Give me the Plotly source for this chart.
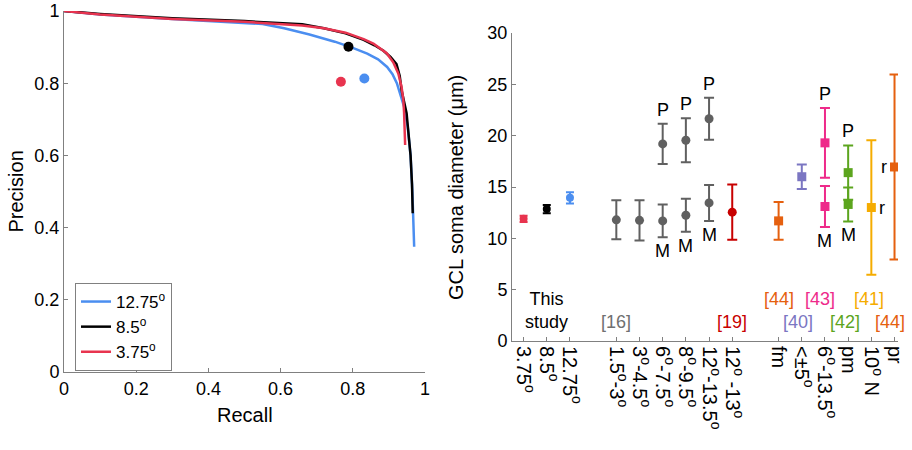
import plotly.graph_objects as go

# ---------------- Left panel: precision-recall curves ----------------
recall_1275 = [0.0, 0.1, 0.3, 0.45, 0.55, 0.61, 0.68, 0.75, 0.80, 0.84, 0.87, 0.895, 0.91, 0.922, 0.932, 0.942, 0.952, 0.96, 0.965, 0.968, 0.97]
prec_1275 = [1.0, 0.99, 0.978, 0.97, 0.964, 0.952, 0.935, 0.915, 0.898, 0.882, 0.866, 0.845, 0.825, 0.80, 0.77, 0.735, 0.68, 0.60, 0.50, 0.42, 0.347]

recall_85 = [0.0, 0.1, 0.3, 0.5, 0.66, 0.72, 0.78, 0.83, 0.86, 0.885, 0.905, 0.921, 0.93, 0.935, 0.949, 0.96, 0.964, 0.966]
prec_85 = [1.0, 0.992, 0.98, 0.972, 0.963, 0.952, 0.938, 0.92, 0.905, 0.89, 0.872, 0.853, 0.82, 0.781, 0.717, 0.60, 0.52, 0.44]

recall_375 = [0.0, 0.1, 0.3, 0.5, 0.66, 0.72, 0.78, 0.83, 0.857, 0.878, 0.894, 0.912, 0.926, 0.935, 0.94, 0.942, 0.945]
prec_375 = [1.0, 0.99, 0.978, 0.97, 0.96, 0.952, 0.94, 0.922, 0.91, 0.896, 0.883, 0.858, 0.827, 0.79, 0.753, 0.72, 0.629]

dot_recall = [0.832, 0.788, 0.767]
dot_prec = [0.813, 0.901, 0.804]

curve_names = ["12.75<sup>o</sup>", "8.5<sup>o</sup>", "3.75<sup>o</sup>"]

# ---------------- Right panel: GCL soma diameter ----------------
tick_pos = [1, 2, 3, 5, 6, 7, 8, 9, 10, 12, 13, 14, 15, 16, 17]
tick_text = ["3.75<sup>o</sup>", "8.5<sup>o</sup>", "12.75<sup>o</sup>",
             "1.5<sup>o</sup>-3<sup>o</sup>", "3<sup>o</sup>-4.5<sup>o</sup>",
             "6<sup>o</sup>-7.5<sup>o</sup>", "8<sup>o</sup>-9.5<sup>o</sup>",
             "12<sup>o</sup>-13.5<sup>o</sup>", "12<sup>o</sup> -13<sup>o</sup>",
             "fm", "<\u00b15<sup>o</sup>", "6<sup>o</sup>-13.5<sup>o</sup>",
             "pm", "10<sup>o</sup> N", "pr"]

this_pos = [1, 2, 3]
this_mean = [11.9, 12.85, 13.95]
this_err = [0.3, 0.4, 0.55]

ref16_pos = [5, 6, 7, 8, 9]
ref16_mean = [11.8, 11.75, 11.7, 12.25, 13.45]
ref16_err = [1.9, 1.95, 1.6, 1.6, 1.75]
ref16p_pos = [7, 8, 9]
ref16p_mean = [19.2, 19.55, 21.65]
ref16p_err = [1.95, 2.15, 2.05]

ref19_pos = [10]
ref19_mean = [12.55]
ref19_err = [2.7]

ref44fm_pos = [12]
ref44fm_mean = [11.7]
ref44fm_err = [1.85]

ref40_pos = [13]
ref40_mean = [16.0]
ref40_err = [1.2]

ref43_pos = [14, 14]
ref43_mean = [19.3, 13.1]
ref43_err = [3.4, 2.0]

ref42_pos = [15, 15]
ref42_mean = [16.4, 13.3]
ref42_err = [2.65, 1.65]

ref41_pos = [16]
ref41_mean = [13.0]
ref41_err = [6.55]

ref44pr_pos = [17]
ref44pr_mean = [16.95]
ref44pr_err = [9.0]

# P / M / r label assignments
p_pos = [7, 8, 9, 14, 15]
p_top = [ref16p_mean[0] + ref16p_err[0], ref16p_mean[1] + ref16p_err[1], ref16p_mean[2] + ref16p_err[2],
         ref43_mean[0] + ref43_err[0], ref42_mean[0] + ref42_err[0]]
m_pos = [7, 8, 9, 14, 15]
m_bot = [ref16_mean[2] - ref16_err[2], ref16_mean[3] - ref16_err[3], ref16_mean[4] - ref16_err[4],
         ref43_mean[1] - ref43_err[1], ref42_mean[1] - ref42_err[1]]

FONT = "Arial, Liberation Sans, sans-serif"
AX = "#808080"

c_blue = "#4B8EF0"
c_black = "#000000"
c_red = "#E8344F"
c_gray = "#606060"
c_dred = "#C80000"
c_orange = "#E5600F"
c_purple = "#7B76C2"
c_pink = "#EE2A8A"
c_green = "#5CA51E"
c_yellow = "#F5AC00"

fig = go.Figure()

for rx, py, col, nm in [(recall_1275, prec_1275, c_blue, curve_names[0]),
                        (recall_85, prec_85, c_black, curve_names[1]),
                        (recall_375, prec_375, c_red, curve_names[2])]:
    fig.add_trace(go.Scatter(x=rx, y=py, mode="lines", name=nm,
                             line=dict(color=col, width=2.5), xaxis="x", yaxis="y"))

fig.add_trace(go.Scatter(x=dot_recall, y=dot_prec, mode="markers", showlegend=False,
                         marker=dict(size=10, color=[c_blue, c_black, c_red]),
                         xaxis="x", yaxis="y"))


def err_trace(xs, ys, es, col, symbol, size=9, capw=5):
    fig.add_trace(go.Scatter(
        x=xs, y=ys, mode="markers", showlegend=False,
        marker=dict(symbol=symbol, size=size, color=col),
        error_y=dict(type="data", array=es, visible=True, color=col, thickness=2, width=capw),
        xaxis="x2", yaxis="y2"))


for i, col in enumerate([c_red, c_black, c_blue]):
    err_trace([this_pos[i]], [this_mean[i]], [this_err[i]], col, "circle", size=8, capw=4)
err_trace(ref16_pos, ref16_mean, ref16_err, c_gray, "circle")
err_trace(ref16p_pos, ref16p_mean, ref16p_err, c_gray, "circle")
err_trace(ref19_pos, ref19_mean, ref19_err, c_dred, "circle")
err_trace(ref44fm_pos, ref44fm_mean, ref44fm_err, c_orange, "square")
err_trace(ref40_pos, ref40_mean, ref40_err, c_purple, "square")
err_trace(ref43_pos, ref43_mean, ref43_err, c_pink, "square")
err_trace(ref42_pos, ref42_mean, ref42_err, c_green, "square")
err_trace(ref41_pos, ref41_mean, ref41_err, c_yellow, "square")
err_trace(ref44pr_pos, ref44pr_mean, ref44pr_err, c_orange, "square")

ann = []
for x, y in zip(p_pos, p_top):
    ann.append(dict(x=x, y=y, xref="x2", yref="y2", text="P", showarrow=False,
                    yanchor="bottom", yshift=2, font=dict(size=18, color="black", family=FONT)))
for x, y in zip(m_pos, m_bot):
    ann.append(dict(x=x, y=y, xref="x2", yref="y2", text="M", showarrow=False,
                    yanchor="top", yshift=-2, font=dict(size=18, color="black", family=FONT)))
ann.append(dict(x=ref41_pos[0], y=ref41_mean[0], xref="x2", yref="y2", text="r", showarrow=False,
                xanchor="left", xshift=6, font=dict(size=18, color="black", family=FONT)))
ann.append(dict(x=ref44pr_pos[0], y=ref44pr_mean[0], xref="x2", yref="y2", text="r", showarrow=False,
                xanchor="right", xshift=-6, font=dict(size=18, color="black", family=FONT)))

cites = [("This<br>study", 2, 3.0, "black"),
         ("[16]", 5, 1.85, "#707070"),
         ("[19]", 10, 1.85, c_dred),
         ("[44]", 12, 4.1, c_orange),
         ("[40]", 12.85, 1.85, c_purple),
         ("[43]", 13.8, 4.1, c_pink),
         ("[42]", 14.85, 1.85, c_green),
         ("[41]", 15.9, 4.1, c_yellow),
         ("[44]", 16.8, 1.85, c_orange)]
for t, x, y, col in cites:
    ann.append(dict(x=x, y=y, xref="x2", yref="y2", text=t, showarrow=False,
                    xanchor="center", yanchor="middle",
                    font=dict(size=18, color=col, family=FONT)))

# axis titles
ann.append(dict(x=15 / 912, y=1 - 191.5 / 450, xref="paper", yref="paper", text="Precision",
                xanchor="center", yanchor="middle",
                textangle=-90, showarrow=False, font=dict(size=20, color="black", family=FONT)))
ann.append(dict(x=245 / 912, y=1 - 415 / 450, xref="paper", yref="paper", text="Recall",
                xanchor="center", yanchor="middle",
                showarrow=False, font=dict(size=20, color="black", family=FONT)))
ann.append(dict(x=456 / 912, y=1 - 188 / 450, xref="paper", yref="paper", text="GCL soma diameter (\u03bcm)",
                xanchor="center", yanchor="middle",
                textangle=-90, showarrow=False, font=dict(size=20, color="black", family=FONT)))

axis_common = dict(showline=True, linecolor=AX, linewidth=1, ticks="inside", ticklen=4,
                   tickcolor=AX, showgrid=False, zeroline=False, automargin=False)
tf = dict(size=18, color="black", family=FONT)

fig.update_layout(
    width=912, height=450,
    margin=dict(l=0, r=0, t=0, b=0),
    paper_bgcolor="white", plot_bgcolor="white",
    font=dict(family=FONT, color="black"),
    xaxis=dict(domain=[64 / 912, 425 / 912], range=[0, 1], tickvals=[0, 0.2, 0.4, 0.6, 0.8, 1],
               anchor="y", tickfont=tf, **axis_common),
    yaxis=dict(domain=[1 - 372 / 450, 1 - 11 / 450], range=[0, 1], tickvals=[0, 0.2, 0.4, 0.6, 0.8, 1],
               anchor="x", tickfont=tf, **axis_common),
    xaxis2=dict(domain=[512 / 912, 898 / 912], range=[0.5, 17.15], tickvals=tick_pos, ticktext=tick_text,
                tickangle=90, anchor="y2", tickfont=dict(size=20, color="black", family=FONT), **axis_common),
    yaxis2=dict(domain=[1 - 341 / 450, 1 - 33 / 450], range=[0, 30], tickvals=[0, 5, 10, 15, 20, 25, 30],
                anchor="x2", tickfont=tf, **axis_common),
    legend=dict(x=75 / 912, y=1 - 283 / 450, xanchor="left", yanchor="top",
                bordercolor=AX, borderwidth=1, bgcolor="white",
                font=dict(size=17, color="black", family=FONT), tracegroupgap=0),
    annotations=ann,
)

fig.write_html("out.html", config={"displayModeBar": False},
               post_script="document.body.style.margin='0';document.body.style.overflow='hidden';")
